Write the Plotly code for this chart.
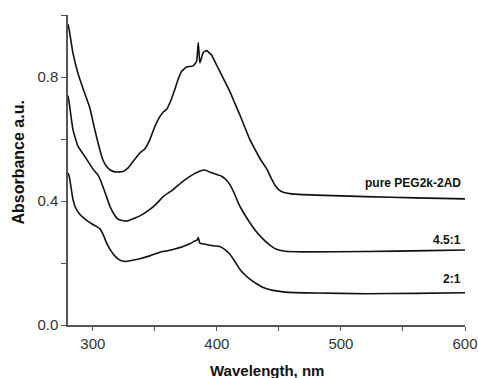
import plotly.graph_objects as go

# Series: wavelength (nm) and absorbance
wl_pure = [280, 281, 284, 288, 292, 297.6, 301.6, 305.6, 308, 311, 314, 317.7, 324.4, 328, 331.2,
           337.9, 341.9, 346, 350, 354, 357, 359.4, 362.5, 366, 369, 371.5, 375.6, 380.9, 383.6,
           385, 386.3, 389, 391.7, 395.7, 399, 402.4, 406.5, 410.5, 414.5, 418.5, 422.5, 426.6,
           430.5, 434.7, 440, 444, 447, 450, 453.5, 460, 480, 520, 560, 600]
abs_pure = [0.97, 0.952, 0.877, 0.812, 0.764, 0.70, 0.63, 0.566, 0.534, 0.512, 0.50, 0.494, 0.495,
            0.505, 0.521, 0.555, 0.568, 0.598, 0.64, 0.672, 0.688, 0.695, 0.72, 0.759, 0.795, 0.818,
            0.832, 0.836, 0.85, 0.911, 0.845, 0.879, 0.885, 0.871, 0.845, 0.818, 0.785, 0.753,
            0.715, 0.678, 0.638, 0.598, 0.568, 0.537, 0.505, 0.472, 0.45, 0.436, 0.428, 0.423,
            0.419, 0.414, 0.410, 0.407]

wl_45 = [280, 281, 284, 288, 293.5, 300.3, 304, 307, 310.5, 313.7, 317, 320.4, 327, 332, 338, 346,
         351, 356.7, 364.8, 372.8, 380.9, 386, 390.3, 395.7, 403.8, 407, 410.5, 414, 417.2, 421.5,
         426.6, 432, 437.3, 442, 448, 455, 470, 520, 570, 600]
abs_45 = [0.74, 0.716, 0.63, 0.577, 0.544, 0.502, 0.485, 0.459, 0.42, 0.384, 0.358, 0.341, 0.335,
          0.342, 0.352, 0.373, 0.39, 0.414, 0.437, 0.464, 0.486, 0.496, 0.50, 0.491, 0.48, 0.47,
          0.453, 0.425, 0.394, 0.362, 0.33, 0.30, 0.277, 0.26, 0.244, 0.238, 0.236, 0.237, 0.24,
          0.242]

wl_21 = [280, 281, 284, 286.5, 289.5, 293.5, 297.6, 302, 305.6, 308, 311, 314, 317.7, 321.5, 325.8,
         331, 338, 346, 354, 359.4, 366, 372.8, 378, 382.3, 384, 385, 386.3, 390, 394.4, 402.4,
         406.5, 410.5, 414.5, 418.5, 422.5, 426.6, 432, 437.3, 443, 448, 455, 480, 520, 560, 600]
abs_21 = [0.49, 0.48, 0.405, 0.375, 0.357, 0.342, 0.33, 0.32, 0.311, 0.295, 0.266, 0.243, 0.223,
          0.21, 0.205, 0.208, 0.214, 0.223, 0.235, 0.239, 0.245, 0.253, 0.262, 0.271, 0.274, 0.282,
          0.264, 0.261, 0.257, 0.253, 0.243, 0.228, 0.205, 0.18, 0.162, 0.148, 0.133, 0.121, 0.114,
          0.11, 0.106, 0.103, 0.101, 0.102, 0.104]

series_names = ["pure PEG2k-2AD", "4.5:1", "2:1"]
label_y = [0.459, 0.274, 0.148]

x_tickvals = [300, 350, 400, 450, 500, 550, 600]
x_ticktext = ["300", "", "400", "", "500", "", "600"]
y_tickvals = [0.0, 0.2, 0.4, 0.6, 0.8, 1.0]
y_ticktext = ["0.0", "", "0.4", "", "0.8", ""]

FONT = "Liberation Sans, Arial, sans-serif"

fig = go.Figure()
for wl, ab, name in zip([wl_pure, wl_45, wl_21], [abs_pure, abs_45, abs_21], series_names):
    fig.add_trace(go.Scatter(x=wl, y=ab, mode="lines", name=name,
                             line=dict(color="#111111", width=1.6, shape="spline", smoothing=0.4),
                             showlegend=False))

for name, yv in zip(series_names, label_y):
    fig.add_annotation(x=598, y=yv, text="<b>%s</b>" % name, showarrow=False,
                       xanchor="right", yanchor="middle",
                       font=dict(family=FONT, size=12, color="#111111"))

fig.add_annotation(x=0.5, y=0, xref="paper", yref="paper", yshift=-45,
                   text="<b>Wavelength, nm</b>", showarrow=False,
                   xanchor="center", yanchor="middle",
                   font=dict(family=FONT, size=15, color="#111111"))
fig.add_annotation(x=0, y=0.524, xref="paper", yref="paper", xshift=-49,
                   text="<b>Absorbance a.u.</b>", showarrow=False, textangle=-90,
                   xanchor="center", yanchor="middle",
                   font=dict(family=FONT, size=16, color="#111111"))

fig.update_layout(
    width=478, height=378,
    margin=dict(l=68, r=13, t=15, b=53),
    paper_bgcolor="white", plot_bgcolor="white",
    font=dict(family=FONT, size=15, color="#333333"),
    xaxis=dict(range=[280, 600], tickvals=x_tickvals, ticktext=x_ticktext, automargin=False,
               showgrid=False, zeroline=False, showline=True, linecolor="#555555",
               linewidth=1.5, ticks="outside", ticklen=4, tickwidth=1.2, tickcolor="#555555"),
    yaxis=dict(range=[0, 1.0], tickvals=y_tickvals, ticktext=y_ticktext, automargin=False,
               showgrid=False, zeroline=False, showline=True, linecolor="#555555",
               linewidth=1.5, ticks="outside", ticklen=5, tickwidth=1.2, tickcolor="#555555"),
)

fig.write_html("out.html")
